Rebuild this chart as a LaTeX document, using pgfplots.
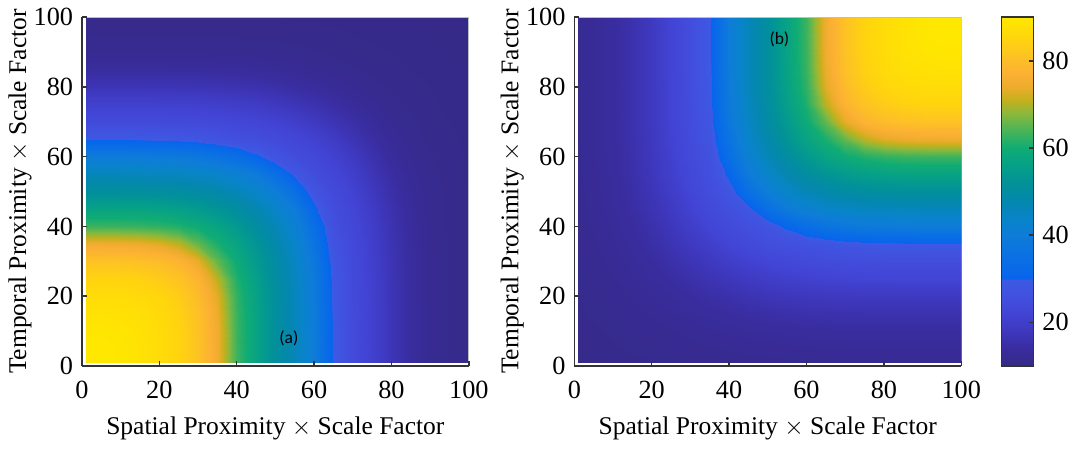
\documentclass[border=0pt]{standalone}
\usepackage{pgfplots}
\pgfplotsset{compat=1.18}
\usepackage{fontspec}
\setmainfont{Liberation Serif}
\newfontfamily\labfont{Carlito}
\tikzset{lab/.style={font=\labfont\fontsize{7}{8}\selectfont, inner sep=0pt}}
\pgfplotsset{
 colormap={parul}{rgb255(10pt)=(53,42,135) rgb255(14pt)=(57,44,158) rgb255(18pt)=(62,56,190) rgb255(22pt)=(66,68,212) rgb255(26pt)=(66,80,222) rgb255(29.9pt)=(60,90,228) rgb255(30pt)=(8,100,236) rgb255(35pt)=(10,112,228) rgb255(40pt)=(14,124,216) rgb255(44pt)=(8,132,200) rgb255(48pt)=(4,136,172) rgb255(52pt)=(2,146,152) rgb255(56pt)=(6,160,136) rgb255(60pt)=(16,172,116) rgb255(64pt)=(72,180,88) rgb255(68pt)=(140,184,60) rgb255(71pt)=(196,176,28) rgb255(74pt)=(236,172,44) rgb255(77pt)=(252,176,52) rgb255(81pt)=(253,194,36) rgb255(85pt)=(255,212,14) rgb255(90pt)=(255,232,0)},
 myax/.style={
  scale only axis, width=154.8pt, height=139.5pt,
  xmin=0,xmax=100,ymin=0,ymax=100,
  xtick={0,20,...,100}, ytick={0,20,...,100},
  xticklabels={0,20,40,60,80,100}, yticklabels={0,20,40,60,80,100},
  axis x line*=bottom, axis y line*=left,
  axis line style={-, draw=black!80, line width=0.6pt},
  tick align=inside, major tick length=2pt,
  tick style={black!80, line width=0.6pt},
  point meta min=10, point meta max=90,
  colormap name=parul,
  axis on top,
  ticklabel style={font=\fontsize{10.5}{12}\selectfont},
  label style={font=\fontsize{10.2}{12}\selectfont},
  xlabel={Spatial Proximity $\times$ Scale Factor},
  ylabel={Temporal Proximity $\times$ Scale Factor},
  xticklabel shift=2.5pt, ylabel shift=-6pt, xlabel shift=0.5pt,
 },
}
\begin{document}
\begin{tikzpicture}
\begin{axis}[myax, name=a1]
\addplot[surf, shader=interp, mesh/cols=21, point meta=explicit] table[row sep=\\, meta=c] {
x y c\\
1 1 90\\ 5 1 90\\ 10 1 89.5\\ 15 1 88.5\\ 20 1 87\\ 25 1 85\\ 30 1 81\\ 35 1 75\\ 40 1 63\\ 45 1 57\\ 50 1 51\\ 55 1 46\\ 60 1 40\\ 65 1 29.5\\ 70 1 24\\ 75 1 21\\ 80 1 17\\ 85 1 14\\ 90 1 12\\ 95 1 11\\ 100 1 10.5\\
1 5 90\\ 5 5 90\\ 10 5 89.5\\ 15 5 88.5\\ 20 5 87\\ 25 5 85\\ 30 5 81\\ 35 5 75\\ 40 5 63\\ 45 5 57\\ 50 5 51\\ 55 5 46\\ 60 5 40\\ 65 5 29.5\\ 70 5 24\\ 75 5 21\\ 80 5 17\\ 85 5 14\\ 90 5 12\\ 95 5 11\\ 100 5 10.5\\
1 10 89.5\\ 5 10 89.5\\ 10 10 89.1\\ 15 10 88.3\\ 20 10 86.9\\ 25 10 84.9\\ 30 10 80.9\\ 35 10 74.9\\ 40 10 62.9\\ 45 10 57\\ 50 10 51\\ 55 10 46\\ 60 10 40\\ 65 10 29.5\\ 70 10 24\\ 75 10 21\\ 80 10 17\\ 85 10 14\\ 90 10 12\\ 95 10 11\\ 100 10 10.5\\
1 15 88.5\\ 5 15 88.5\\ 10 15 88.3\\ 15 15 87.7\\ 20 15 86.4\\ 25 15 84.4\\ 30 15 80.5\\ 35 15 74.4\\ 40 15 62.7\\ 45 15 56.9\\ 50 15 50.9\\ 55 15 45.9\\ 60 15 39.9\\ 65 15 29.4\\ 70 15 24\\ 75 15 21\\ 80 15 17\\ 85 15 14\\ 90 15 12\\ 95 15 11\\ 100 15 10.5\\
1 20 87\\ 5 20 87\\ 10 20 86.9\\ 15 20 86.4\\ 20 20 85.5\\ 25 20 83.2\\ 30 20 79.6\\ 35 20 73.2\\ 40 20 62.2\\ 45 20 56.5\\ 50 20 50.7\\ 55 20 45.7\\ 60 20 39.6\\ 65 20 29.3\\ 70 20 23.9\\ 75 20 20.9\\ 80 20 17\\ 85 20 14\\ 90 20 12\\ 95 20 11\\ 100 20 10.5\\
1 25 85\\ 5 25 85\\ 10 25 84.9\\ 15 25 84.4\\ 20 25 83.2\\ 25 25 81.2\\ 30 25 77.9\\ 35 25 70.7\\ 40 25 61.1\\ 45 25 55.8\\ 50 25 50.2\\ 55 25 45.3\\ 60 25 39.1\\ 65 25 28.9\\ 70 25 23.8\\ 75 25 20.8\\ 80 25 16.9\\ 85 25 13.9\\ 90 25 12\\ 95 25 11\\ 100 25 10.5\\
1 30 81\\ 5 30 81\\ 10 30 80.9\\ 15 30 80.5\\ 20 30 79.6\\ 25 30 77.9\\ 30 30 73.6\\ 35 30 65.7\\ 40 30 59.3\\ 45 30 54.5\\ 50 30 49.5\\ 55 30 44.6\\ 60 30 38.2\\ 65 30 28.3\\ 70 30 23.7\\ 75 30 20.6\\ 80 30 16.8\\ 85 30 13.9\\ 90 30 12\\ 95 30 11\\ 100 30 10.5\\
1 35 75\\ 5 35 75\\ 10 35 74.9\\ 15 35 74.4\\ 20 35 73.2\\ 25 35 70.7\\ 30 35 65.7\\ 35 35 60.9\\ 40 35 57.1\\ 45 35 52.7\\ 50 35 48.3\\ 55 35 43.5\\ 60 35 36.6\\ 65 35 27.2\\ 70 35 23.4\\ 75 35 20.3\\ 80 35 16.6\\ 85 35 13.8\\ 90 35 11.9\\ 95 35 11\\ 100 35 10.5\\
1 40 63\\ 5 40 63\\ 10 40 62.9\\ 15 40 62.7\\ 20 40 62.2\\ 25 40 61.1\\ 30 40 59.3\\ 35 40 57.1\\ 40 40 53.9\\ 45 40 50.2\\ 50 40 46.5\\ 55 40 41.8\\ 60 40 34.5\\ 65 40 25.9\\ 70 40 22.9\\ 75 40 19.8\\ 80 40 16.3\\ 85 40 13.6\\ 90 40 11.8\\ 95 40 11\\ 100 40 10.5\\
1 45 57\\ 5 45 57\\ 10 45 57\\ 15 45 56.9\\ 20 45 56.5\\ 25 45 55.8\\ 30 45 54.5\\ 35 45 52.7\\ 40 45 50.2\\ 45 45 47.5\\ 50 45 44\\ 55 45 39.4\\ 60 45 31.1\\ 65 45 25.1\\ 70 45 22.3\\ 75 45 19.2\\ 80 45 15.9\\ 85 45 13.4\\ 90 45 11.7\\ 95 45 10.9\\ 100 45 10.5\\
1 50 51\\ 5 50 51\\ 10 50 51\\ 15 50 50.9\\ 20 50 50.7\\ 25 50 50.2\\ 30 50 49.5\\ 35 50 48.3\\ 40 50 46.5\\ 45 50 44\\ 50 50 40.6\\ 55 50 34.8\\ 60 50 27.4\\ 65 50 24\\ 70 50 21.5\\ 75 50 18.2\\ 80 50 15.3\\ 85 50 13\\ 90 50 11.6\\ 95 50 10.9\\ 100 50 10.5\\
1 55 46\\ 5 55 46\\ 10 55 46\\ 15 55 45.9\\ 20 55 45.7\\ 25 55 45.3\\ 30 55 44.6\\ 35 55 43.5\\ 40 55 41.8\\ 45 55 39.4\\ 50 55 34.8\\ 55 55 28.8\\ 60 55 24.9\\ 65 55 22.7\\ 70 55 20.3\\ 75 55 17.1\\ 80 55 14.5\\ 85 55 12.6\\ 90 55 11.4\\ 95 55 10.9\\ 100 55 10.4\\
1 60 40\\ 5 60 40\\ 10 60 40\\ 15 60 39.9\\ 20 60 39.6\\ 25 60 39.1\\ 30 60 38.2\\ 35 60 36.6\\ 40 60 34.5\\ 45 60 31.1\\ 50 60 27.4\\ 55 60 24.9\\ 60 60 23.2\\ 65 60 21.3\\ 70 60 18.6\\ 75 60 16\\ 80 60 13.7\\ 85 60 12.1\\ 90 60 11.2\\ 95 60 10.9\\ 100 60 10.4\\
1 65 29.5\\ 5 65 29.5\\ 10 65 29.5\\ 15 65 29.4\\ 20 65 29.3\\ 25 65 28.9\\ 30 65 28.3\\ 35 65 27.2\\ 40 65 25.9\\ 45 65 25.1\\ 50 65 24\\ 55 65 22.7\\ 60 65 21.3\\ 65 65 19.2\\ 70 65 16.8\\ 75 65 14.7\\ 80 65 13\\ 85 65 11.7\\ 90 65 10.9\\ 95 65 10.6\\ 100 65 10.4\\
1 70 24\\ 5 70 24\\ 10 70 24\\ 15 70 24\\ 20 70 23.9\\ 25 70 23.8\\ 30 70 23.7\\ 35 70 23.4\\ 40 70 22.9\\ 45 70 22.3\\ 50 70 21.5\\ 55 70 20.3\\ 60 70 18.6\\ 65 70 16.8\\ 70 70 15.1\\ 75 70 13.4\\ 80 70 12.1\\ 85 70 11.3\\ 90 70 10.8\\ 95 70 10.5\\ 100 70 10.4\\
1 75 21\\ 5 75 21\\ 10 75 21\\ 15 75 21\\ 20 75 20.9\\ 25 75 20.8\\ 30 75 20.6\\ 35 75 20.3\\ 40 75 19.8\\ 45 75 19.2\\ 50 75 18.2\\ 55 75 17.1\\ 60 75 16\\ 65 75 14.7\\ 70 75 13.4\\ 75 75 12.3\\ 80 75 11.5\\ 85 75 10.9\\ 90 75 10.6\\ 95 75 10.4\\ 100 75 10.3\\
1 80 17\\ 5 80 17\\ 10 80 17\\ 15 80 17\\ 20 80 17\\ 25 80 16.9\\ 30 80 16.8\\ 35 80 16.6\\ 40 80 16.3\\ 45 80 15.9\\ 50 80 15.3\\ 55 80 14.5\\ 60 80 13.7\\ 65 80 13\\ 70 80 12.1\\ 75 80 11.5\\ 80 80 11\\ 85 80 10.7\\ 90 80 10.5\\ 95 80 10.35\\ 100 80 10.3\\
1 85 14\\ 5 85 14\\ 10 85 14\\ 15 85 14\\ 20 85 14\\ 25 85 13.9\\ 30 85 13.9\\ 35 85 13.8\\ 40 85 13.6\\ 45 85 13.4\\ 50 85 13\\ 55 85 12.6\\ 60 85 12.1\\ 65 85 11.7\\ 70 85 11.3\\ 75 85 10.9\\ 80 85 10.7\\ 85 85 10.5\\ 90 85 10.4\\ 95 85 10.3\\ 100 85 10.3\\
1 90 12\\ 5 90 12\\ 10 90 12\\ 15 90 12\\ 20 90 12\\ 25 90 12\\ 30 90 12\\ 35 90 11.9\\ 40 90 11.8\\ 45 90 11.7\\ 50 90 11.6\\ 55 90 11.4\\ 60 90 11.2\\ 65 90 10.9\\ 70 90 10.8\\ 75 90 10.6\\ 80 90 10.5\\ 85 90 10.4\\ 90 90 10.3\\ 95 90 10.2\\ 100 90 10.2\\
1 95 11\\ 5 95 11\\ 10 95 11\\ 15 95 11\\ 20 95 11\\ 25 95 11\\ 30 95 11\\ 35 95 11\\ 40 95 11\\ 45 95 10.9\\ 50 95 10.9\\ 55 95 10.9\\ 60 95 10.9\\ 65 95 10.6\\ 70 95 10.5\\ 75 95 10.4\\ 80 95 10.35\\ 85 95 10.3\\ 90 95 10.2\\ 95 95 10.2\\ 100 95 10.2\\
1 100 10.5\\ 5 100 10.5\\ 10 100 10.5\\ 15 100 10.5\\ 20 100 10.5\\ 25 100 10.5\\ 30 100 10.5\\ 35 100 10.5\\ 40 100 10.5\\ 45 100 10.5\\ 50 100 10.5\\ 55 100 10.4\\ 60 100 10.4\\ 65 100 10.4\\ 70 100 10.4\\ 75 100 10.3\\ 80 100 10.3\\ 85 100 10.3\\ 90 100 10.2\\ 95 100 10.2\\ 100 100 10.2\\
};
\node[lab] at (axis cs:53.5,7.8) {(a)};
\draw[black!25, line width=0.5pt] (axis cs:0,100) -- (axis cs:100,100) -- (axis cs:100,0);
\end{axis}
\begin{axis}[myax, at={(197pt,0)}, colorbar,
  colorbar style={at={(parent axis.north east)}, anchor=north west, xshift=7.6pt,
   width=12.8pt, height=139.5pt, scale only axis,
   ytick={20,40,60,80}, yticklabels={20,40,60,80},
   tick align=inside, major tick length=2pt,
   ytick pos=right, yticklabel pos=right,
   axis line style={draw=black!80, line width=0.6pt},
   tick style={black!80, line width=0.6pt},
   yticklabel style={font=\fontsize{10.5}{12}\selectfont}}]
\addplot[surf, shader=interp, mesh/cols=21, point meta=explicit] table[row sep=\\, meta=c] {
x y c\\
1 1 10.6\\ 5 1 10.7\\ 10 1 10.8\\ 15 1 10.9\\ 20 1 11.1\\ 25 1 11.3\\ 30 1 11.5\\ 35 1 11.6\\ 40 1 11.7\\ 45 1 11.8\\ 50 1 11.9\\ 55 1 12\\ 60 1 12\\ 65 1 12\\ 70 1 12\\ 75 1 12\\ 80 1 12\\ 85 1 12\\ 90 1 12\\ 95 1 12\\ 100 1 12\\
1 5 10.7\\ 5 5 10.9\\ 10 5 11\\ 15 5 11.3\\ 20 5 11.5\\ 25 5 11.7\\ 30 5 11.9\\ 35 5 12.1\\ 40 5 12.3\\ 45 5 12.5\\ 50 5 12.6\\ 55 5 12.8\\ 60 5 12.9\\ 65 5 13\\ 70 5 13\\ 75 5 13\\ 80 5 13\\ 85 5 13\\ 90 5 13\\ 95 5 13\\ 100 5 13\\
1 10 10.8\\ 5 10 11\\ 10 10 11.3\\ 15 10 11.6\\ 20 10 11.8\\ 25 10 12.1\\ 30 10 12.5\\ 35 10 12.9\\ 40 10 13.2\\ 45 10 13.4\\ 50 10 13.6\\ 55 10 13.7\\ 60 10 13.8\\ 65 10 13.9\\ 70 10 14\\ 75 10 14\\ 80 10 14\\ 85 10 14\\ 90 10 14\\ 95 10 14\\ 100 10 14\\
1 15 10.9\\ 5 15 11.3\\ 10 15 11.6\\ 15 15 11.9\\ 20 15 12.3\\ 25 15 12.9\\ 30 15 13.3\\ 35 15 13.7\\ 40 15 14.1\\ 45 15 14.6\\ 50 15 15\\ 55 15 15.4\\ 60 15 15.6\\ 65 15 15.8\\ 70 15 15.9\\ 75 15 15.9\\ 80 15 15.9\\ 85 15 15.9\\ 90 15 15.9\\ 95 15 15.9\\ 100 15 15.9\\
1 20 11.1\\ 5 20 11.5\\ 10 20 11.8\\ 15 20 12.3\\ 20 20 13\\ 25 20 13.5\\ 30 20 14.1\\ 35 20 15\\ 40 20 15.7\\ 45 20 16.5\\ 50 20 17.1\\ 55 20 17.6\\ 60 20 17.9\\ 65 20 18.2\\ 70 20 18.3\\ 75 20 18.4\\ 80 20 18.5\\ 85 20 18.5\\ 90 20 18.5\\ 95 20 18.5\\ 100 20 18.5\\
1 25 11.3\\ 5 25 11.7\\ 10 25 12.1\\ 15 25 12.9\\ 20 25 13.5\\ 25 25 14.3\\ 30 25 15.4\\ 35 25 16.6\\ 40 25 17.6\\ 45 25 18.6\\ 50 25 19.6\\ 55 25 20.4\\ 60 25 20.9\\ 65 25 21.4\\ 70 25 21.7\\ 75 25 21.9\\ 80 25 21.9\\ 85 25 22\\ 90 25 22\\ 95 25 22\\ 100 25 22\\
1 30 11.5\\ 5 30 11.9\\ 10 30 12.5\\ 15 30 13.3\\ 20 30 14.1\\ 25 30 15.4\\ 30 30 16.9\\ 35 30 18.3\\ 40 30 19.9\\ 45 30 21.4\\ 50 30 22.5\\ 55 30 23.3\\ 60 30 23.9\\ 65 30 24.4\\ 70 30 24.7\\ 75 30 24.8\\ 80 30 24.9\\ 85 30 25\\ 90 30 25\\ 95 30 25\\ 100 30 25\\
1 35 11.6\\ 5 35 12.1\\ 10 35 12.9\\ 15 35 13.7\\ 20 35 15\\ 25 35 16.6\\ 30 35 18.3\\ 35 35 20.4\\ 40 35 22.3\\ 45 35 23.7\\ 50 35 25\\ 55 35 25.8\\ 60 35 26.4\\ 65 35 27.6\\ 70 35 28.5\\ 75 35 29\\ 80 35 29.3\\ 85 35 29.4\\ 90 35 29.5\\ 95 35 29.5\\ 100 35 29.5\\
1 40 11.7\\ 5 40 12.3\\ 10 40 13.2\\ 15 40 14.1\\ 20 40 15.7\\ 25 40 17.6\\ 30 40 19.9\\ 35 40 22.3\\ 40 40 24.2\\ 45 40 25.7\\ 50 40 27.7\\ 55 40 31.1\\ 60 40 34.5\\ 65 40 36.6\\ 70 40 38.2\\ 75 40 39.1\\ 80 40 39.6\\ 85 40 39.9\\ 90 40 40\\ 95 40 40\\ 100 40 40\\
1 45 11.8\\ 5 45 12.5\\ 10 45 13.4\\ 15 45 14.6\\ 20 45 16.5\\ 25 45 18.6\\ 30 45 21.4\\ 35 45 23.7\\ 40 45 25.7\\ 45 45 28.8\\ 50 45 34.8\\ 55 45 39.4\\ 60 45 41.8\\ 65 45 43.5\\ 70 45 44.6\\ 75 45 45.3\\ 80 45 45.7\\ 85 45 45.9\\ 90 45 46\\ 95 45 46\\ 100 45 46\\
1 50 11.9\\ 5 50 12.6\\ 10 50 13.6\\ 15 50 15\\ 20 50 17.1\\ 25 50 19.6\\ 30 50 22.5\\ 35 50 25\\ 40 50 27.7\\ 45 50 34.8\\ 50 50 40.6\\ 55 50 44\\ 60 50 46.5\\ 65 50 48.3\\ 70 50 49.5\\ 75 50 50.2\\ 80 50 50.7\\ 85 50 50.9\\ 90 50 51\\ 95 50 51\\ 100 50 51\\
1 55 12\\ 5 55 12.8\\ 10 55 13.7\\ 15 55 15.4\\ 20 55 17.6\\ 25 55 20.4\\ 30 55 23.3\\ 35 55 25.8\\ 40 55 31.1\\ 45 55 39.4\\ 50 55 44\\ 55 55 47.5\\ 60 55 50.2\\ 65 55 52.7\\ 70 55 54.5\\ 75 55 55.8\\ 80 55 56.5\\ 85 55 56.9\\ 90 55 57\\ 95 55 57\\ 100 55 57\\
1 60 12\\ 5 60 12.9\\ 10 60 13.8\\ 15 60 15.6\\ 20 60 17.9\\ 25 60 20.9\\ 30 60 23.9\\ 35 60 26.4\\ 40 60 34.5\\ 45 60 41.8\\ 50 60 46.5\\ 55 60 50.2\\ 60 60 53.9\\ 65 60 57.1\\ 70 60 59.3\\ 75 60 61.1\\ 80 60 62.2\\ 85 60 62.7\\ 90 60 62.9\\ 95 60 63\\ 100 60 63\\
1 65 12\\ 5 65 13\\ 10 65 13.9\\ 15 65 15.8\\ 20 65 18.2\\ 25 65 21.4\\ 30 65 24.4\\ 35 65 27.6\\ 40 65 36.6\\ 45 65 43.5\\ 50 65 48.3\\ 55 65 52.7\\ 60 65 57.1\\ 65 65 60.9\\ 70 65 65.7\\ 75 65 70.7\\ 80 65 73.2\\ 85 65 74.4\\ 90 65 74.9\\ 95 65 75\\ 100 65 75\\
1 70 12\\ 5 70 13\\ 10 70 14\\ 15 70 15.9\\ 20 70 18.3\\ 25 70 21.7\\ 30 70 24.7\\ 35 70 28.5\\ 40 70 38.2\\ 45 70 44.6\\ 50 70 49.5\\ 55 70 54.5\\ 60 70 59.3\\ 65 70 65.7\\ 70 70 73.6\\ 75 70 77.9\\ 80 70 79.6\\ 85 70 80.5\\ 90 70 80.9\\ 95 70 81\\ 100 70 81\\
1 75 12\\ 5 75 13\\ 10 75 14\\ 15 75 15.9\\ 20 75 18.4\\ 25 75 21.9\\ 30 75 24.8\\ 35 75 29\\ 40 75 39.1\\ 45 75 45.3\\ 50 75 50.2\\ 55 75 55.8\\ 60 75 61.1\\ 65 75 70.7\\ 70 75 77.9\\ 75 75 81.2\\ 80 75 83.2\\ 85 75 84.4\\ 90 75 84.9\\ 95 75 85\\ 100 75 85\\
1 80 12\\ 5 80 13\\ 10 80 14\\ 15 80 15.9\\ 20 80 18.5\\ 25 80 21.9\\ 30 80 24.9\\ 35 80 29.3\\ 40 80 39.6\\ 45 80 45.7\\ 50 80 50.7\\ 55 80 56.5\\ 60 80 62.2\\ 65 80 73.2\\ 70 80 79.6\\ 75 80 83.2\\ 80 80 85.5\\ 85 80 86.4\\ 90 80 86.9\\ 95 80 87\\ 100 80 87\\
1 85 12\\ 5 85 13\\ 10 85 14\\ 15 85 15.9\\ 20 85 18.5\\ 25 85 22\\ 30 85 25\\ 35 85 29.4\\ 40 85 39.9\\ 45 85 45.9\\ 50 85 50.9\\ 55 85 56.9\\ 60 85 62.7\\ 65 85 74.4\\ 70 85 80.5\\ 75 85 84.4\\ 80 85 86.4\\ 85 85 87.7\\ 90 85 88.3\\ 95 85 88.5\\ 100 85 88.5\\
1 90 12\\ 5 90 13\\ 10 90 14\\ 15 90 15.9\\ 20 90 18.5\\ 25 90 22\\ 30 90 25\\ 35 90 29.5\\ 40 90 40\\ 45 90 46\\ 50 90 51\\ 55 90 57\\ 60 90 62.9\\ 65 90 74.9\\ 70 90 80.9\\ 75 90 84.9\\ 80 90 86.9\\ 85 90 88.3\\ 90 90 89.1\\ 95 90 89.5\\ 100 90 89.5\\
1 95 12\\ 5 95 13\\ 10 95 14\\ 15 95 15.9\\ 20 95 18.5\\ 25 95 22\\ 30 95 25\\ 35 95 29.5\\ 40 95 40\\ 45 95 46\\ 50 95 51\\ 55 95 57\\ 60 95 63\\ 65 95 75\\ 70 95 81\\ 75 95 85\\ 80 95 87\\ 85 95 88.5\\ 90 95 89.5\\ 95 95 90\\ 100 95 90\\
1 100 12\\ 5 100 13\\ 10 100 14\\ 15 100 15.9\\ 20 100 18.5\\ 25 100 22\\ 30 100 25\\ 35 100 29.5\\ 40 100 40\\ 45 100 46\\ 50 100 51\\ 55 100 57\\ 60 100 63\\ 65 100 75\\ 70 100 81\\ 75 100 85\\ 80 100 87\\ 85 100 88.5\\ 90 100 89.5\\ 95 100 90\\ 100 100 90\\
};
\node[lab] at (axis cs:53,93.6) {(b)};
\draw[black!25, line width=0.5pt] (axis cs:0,100) -- (axis cs:100,100) -- (axis cs:100,0);
\end{axis}
\end{tikzpicture}
\end{document}
